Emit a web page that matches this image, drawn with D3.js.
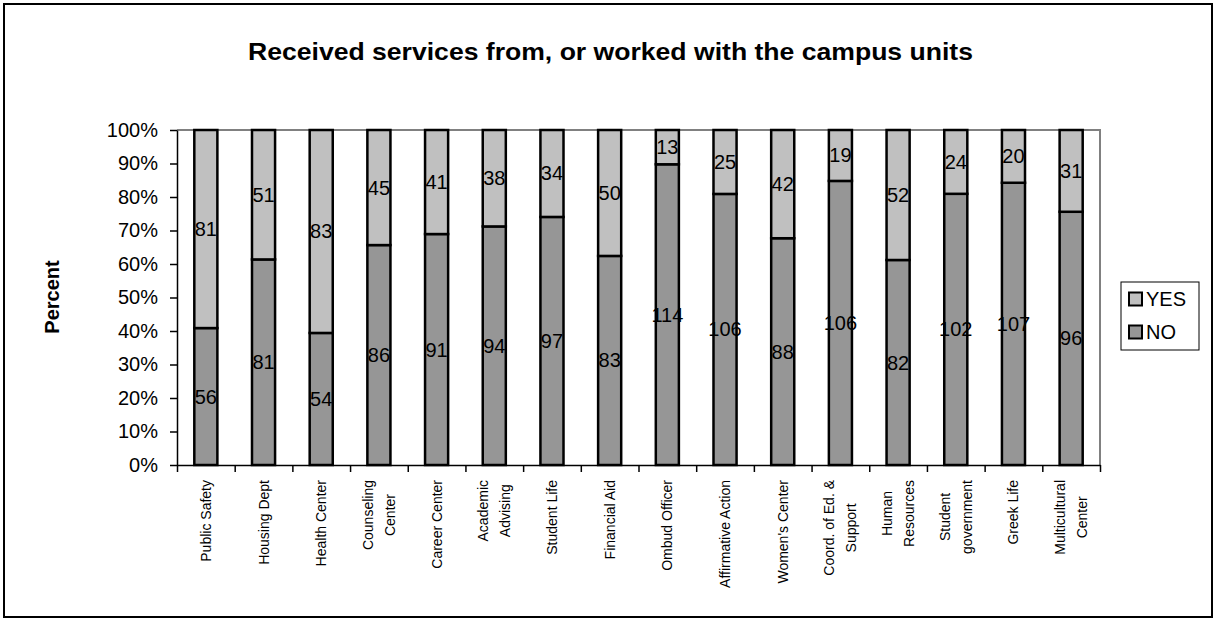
<!DOCTYPE html>
<html>
<head>
<meta charset="utf-8">
<script src="https://cdn.jsdelivr.net/npm/d3@7/dist/d3.min.js"></script>
<style>
  html, body { margin: 0; padding: 0; background: #fff; }
  svg { display: block; font-family: Arial, "Liberation Sans", sans-serif; }
</style>
</head>
<body>
<svg id="chart" width="1217" height="623"></svg>
<script>
// Campus units surveyed (line breaks follow the axis label wrapping)
const units = [
  "Public Safety", "Housing Dept", "Health Center", "Counseling\nCenter",
  "Career Center", "Academic\nAdvising", "Student Life", "Financial Aid",
  "Ombud Officer", "Affirmative Action", "Women's Center", "Coord. of Ed. &\nSupport",
  "Human\nResources", "Student\ngovernment", "Greek Life", "Multicultural\nCenter"
];
// Respondent counts per unit
const noCounts  = [56, 81, 54, 86, 91, 94, 97, 83, 114, 106, 88, 106, 82, 102, 107, 96];
const yesCounts = [81, 51, 83, 45, 41, 38, 34, 50, 13, 25, 42, 19, 52, 24, 20, 31];
const seriesNames = ["NO", "YES"];
const percentTicks = [0, 0.1, 0.2, 0.3, 0.4, 0.5, 0.6, 0.7, 0.8, 0.9, 1];

const svg = d3.select("#chart");
const plotLeft = 177, plotRight = 1100, plotTop = 130, plotBottom = 465;

const colors = { NO: "#969696", YES: "#c0c0c0" };

// Outer chart frame
svg.append("rect")
  .attr("x", 4).attr("y", 4).attr("width", 1208).attr("height", 613)
  .attr("fill", "#fff").attr("stroke", "#000").attr("stroke-width", 2);

// Title
svg.append("text")
  .attr("x", 610.5).attr("y", 60)
  .attr("text-anchor", "middle")
  .attr("font-size", 24).attr("font-weight", "bold")
  .attr("textLength", 725).attr("lengthAdjust", "spacingAndGlyphs")
  .text("Received services from, or worked with the campus units");

// Stack rows into shares of each unit's total
const rows = units.map((u, i) => {
  const total = noCounts[i] + yesCounts[i];
  return { unit: u, NO: noCounts[i] / total, YES: yesCounts[i] / total,
           nNO: noCounts[i], nYES: yesCounts[i] };
});
const stacked = d3.stack().keys(seriesNames)(rows);

const x = d3.scaleBand().domain(units).range([plotLeft, plotRight]).padding(0);
const y = d3.scaleLinear().domain([0, 1]).range([plotBottom, plotTop]);
const barW = x.bandwidth() * 0.4;

// Plot area frame: grey top and right edges
svg.append("path")
  .attr("d", `M${plotLeft},${plotTop}H${plotRight}V${plotBottom}`)
  .attr("fill", "none").attr("stroke", "#808080").attr("stroke-width", 2);

// Bars
const layer = svg.append("g").selectAll("g").data(stacked).join("g")
  .attr("fill", d => colors[d.key]);
layer.selectAll("rect").data(d => d).join("rect")
  .attr("x", d => x(d.data.unit) + (x.bandwidth() - barW) / 2)
  .attr("y", d => y(d[1]))
  .attr("width", barW)
  .attr("height", d => y(d[0]) - y(d[1]))
  .attr("stroke", "#000").attr("stroke-width", 2.5);

// Count labels centred in each segment
stacked.forEach(s => {
  svg.append("g").selectAll("text").data(s).join("text")
    .attr("x", d => x(d.data.unit) + x.bandwidth() / 2)
    .attr("y", d => y((d[0] + d[1]) / 2))
    .attr("text-anchor", "middle")
    .attr("dominant-baseline", "central")
    .attr("font-size", 20)
    .attr("fill", "#000")
    .text(d => d.data["n" + s.key]);
});

// Y axis
const yAxis = svg.append("g")
  .attr("transform", `translate(${plotLeft},0)`)
  .call(d3.axisLeft(y).tickValues(percentTicks).tickFormat(d3.format(".0%"))
    .tickSize(7).tickSizeOuter(0).tickPadding(12));
yAxis.select(".domain").attr("stroke", "#000").attr("stroke-width", 1.5);
yAxis.selectAll(".tick line").attr("stroke", "#000").attr("stroke-width", 1.5);
yAxis.selectAll(".tick text")
  .attr("font-size", 20).attr("font-family", "Arial, 'Liberation Sans', sans-serif")
  .attr("fill", "#000");

// X axis: ticks at category boundaries
const xEdges = d3.scaleLinear().domain([0, units.length]).range([plotLeft, plotRight]);
const xAxis = svg.append("g")
  .attr("transform", `translate(0,${plotBottom})`)
  .call(d3.axisBottom(xEdges).tickValues(d3.range(units.length + 1))
    .tickFormat("").tickSize(7).tickSizeOuter(0));
xAxis.select(".domain").attr("stroke", "#000").attr("stroke-width", 1.5);
xAxis.selectAll(".tick line").attr("stroke", "#000").attr("stroke-width", 1.5);

// Rotated category labels, wrapped lines centred on each other
const lineGap = 22;
units.forEach(u => {
  const lines = u.split("\n");
  const g = svg.append("g")
    .attr("transform", `translate(${x(u) + x.bandwidth() / 2},480) rotate(-90)`);
  const texts = lines.map((ln, i) => g.append("text")
    .attr("y", (i - (lines.length - 1) / 2) * lineGap)
    .attr("text-anchor", "middle")
    .attr("dominant-baseline", "central")
    .attr("font-size", 14)
    .attr("fill", "#000")
    .text(ln));
  const maxW = d3.max(texts, t => t.node().getComputedTextLength());
  texts.forEach(t => t.attr("x", -maxW / 2));
});

// Y axis title
svg.append("text")
  .attr("transform", "translate(52,297) rotate(-90)")
  .attr("text-anchor", "middle")
  .attr("dominant-baseline", "central")
  .attr("font-size", 20).attr("font-weight", "bold")
  .text("Percent");

// Legend
const legend = svg.append("g");
legend.append("rect")
  .attr("x", 1121).attr("y", 282).attr("width", 78).attr("height", 68)
  .attr("fill", "#fff").attr("stroke", "#000").attr("stroke-width", 1);
["YES", "NO"].forEach((k, i) => {
  const cy = 299 + i * 33;
  legend.append("rect")
    .attr("x", 1129).attr("y", cy - 6.5).attr("width", 13).attr("height", 13)
    .attr("fill", colors[k]).attr("stroke", "#000").attr("stroke-width", 2);
  legend.append("text")
    .attr("x", 1146).attr("y", cy)
    .attr("dominant-baseline", "central")
    .attr("font-size", 20)
    .text(k);
});
</script>
</body>
</html>
